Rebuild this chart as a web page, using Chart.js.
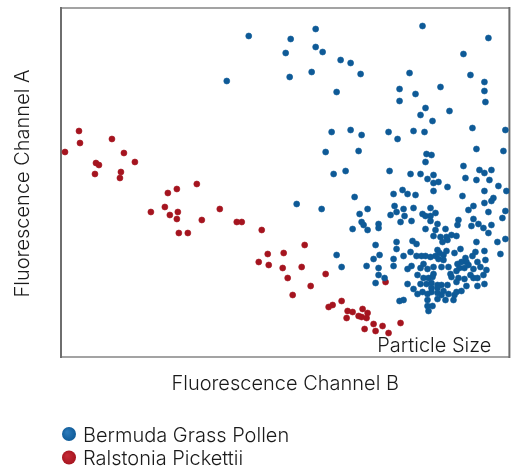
<!DOCTYPE html>
<html>
<head>
<meta charset="utf-8">
<script src="https://cdn.jsdelivr.net/npm/chart.js@4"></script>
<style>
html,body{margin:0;padding:0;background:#fff;}
#wrap{width:513px;height:468px;}
</style>
</head>
<body>
<div id="wrap"><canvas id="c" width="513" height="468"></canvas></div>
<script>
// Series labels
const seriesNames = ["Bermuda Grass Pollen", "Ralstonia Pickettii"];
const xTitle = "Fluorescence Channel B";
const yTitle = "Fluorescence Channel A";
const cornerLabel = "Particle Size";

// Bermuda Grass Pollen: [Channel B, Channel A] (arbitrary units)
const pollenX = [188,166,225,230,229,255,255,262,280,290,300,251,276,362,428,403,349,410,424,424,425,339,339,355,380,365,360,372,389,
271,290,301,328,337,353,364,412,445,265,298,366,371,365,416,443,403,419,424,431,273,285,329,350,360,373,367,405,416,429,
373,378,387,373,438,446,424,347,355,402,433,431,424,413,408,428,445,442,353,370,362,365,370,375,351,370,377,398,397,413,418,431,411,
294,261,299,307,333,342,334,330,336,343,301,303,318,340,344,236,
292,307,318,276,281,315,319,313,306,318,318,324,315,336,336,333,343,333,
365,375,385,423,428,373,380,386,391,396,387,382,352,356,416,437,445,400,394,386,377,379,375,350,356,361,365,370,415,412,424,440,
383,378,383,405,401,406,425,417,363,360,367,373,381,388,397,399,404,408,413,420,426,351,347,357,363,368,373,372,390,391,396,398,404,410,413,417,423,
347,360,366,371,377,381,387,396,406,417,424,
339,343,353,357,362,367,371,371,367,377,377,377,381,385,383,388,393,394,396,401,367,372,368];
const pollenY = [321,276,304,318,280,328,310,305,297,294,283,285,265,331,319,303,284,282,275,266,255,268,256,263,270,249,242,236,246,
225,227,222,225,218,226,225,229,227,205,206,203,202,195,208,206,191,187,184,187,183,186,186,183,183,182,178,179,177,177,
174,175,170,166,171,166,166,163,162,161,159,156,154,151,147,145,146,139,149,149,143,141,141,144,136,136,133,137,132,138,133,132,131,
160,148,143,148,163,167,151,142,145,148,135,132,133,135,141,153,
128,127,129,102,90,112,102,98,91,89,82,79,74,115,108,98,101,91,
128,127,128,129,124,121,120,120,122,121,117,115,116,113,115,115,118,108,104,106,107,104,101,105,101,101,101,100,105,101,106,103,
102,98,97,99,95,95,97,95,93,89,88,90,90,90,93,89,89,92,88,90,87,91,88,82,79,79,83,80,83,80,86,79,78,82,79,79,82,
73,73,73,74,72,72,72,75,71,71,73,
56,57,68,63,65,63,65,69,57,69,64,58,62,57,66,63,57,62,65,66,51,51,46];

// Ralstonia Pickettii
const ralstoniaX = [18,19,4,51,63,35,38,74,34,60,59,136,107,116,104,90,109,117,116,141,159,118,127,176,181,201,207,198,208,223,222,
244,241,227,265,250,232,325,281,272,268,287,292,302,307,286,298,301,306,313,322,304,315,328,340];
const ralstoniaY = [226,214,205,218,204,194,192,195,183,185,179,173,164,168,150,145,142,145,138,137,148,124,124,135,135,127,103,95,92,104,89,
112,90,79,83,71,62,75,56,52,50,46,45,48,44,39,41,40,39,33,31,28,26,24,34];

const colors = ["#0e5a97", "#a5141f"];

function toPoints(xs, ys){ return xs.map((x,i)=>({x:x, y:ys[i]})); }

const FONT = "300 20px Inter, Roboto, 'Liberation Sans', sans-serif";

const decor = {
  id: 'decor',
  beforeDatasetsDraw(chart){
    const {ctx, chartArea:a} = chart;
    ctx.save();
    ctx.lineWidth = 2;
    ctx.strokeStyle = "#a3a3a3";
    ctx.beginPath();
    ctx.moveTo(a.left, a.top); ctx.lineTo(a.right, a.top);
    ctx.moveTo(a.left, a.bottom); ctx.lineTo(a.right, a.bottom);
    ctx.stroke();
    ctx.strokeStyle = "#6e6e6e";
    ctx.beginPath();
    ctx.moveTo(a.left, a.top-1); ctx.lineTo(a.left, a.bottom+1);
    ctx.moveTo(a.right, a.top-1); ctx.lineTo(a.right, a.bottom+1);
    ctx.stroke();
    ctx.restore();
  },
  afterDraw(chart){
    const {ctx, chartArea:a} = chart;
    ctx.save();
    ctx.fillStyle = "#1a1a1a";
    ctx.font = FONT;
    // corner label
    ctx.textAlign = "right"; ctx.textBaseline = "alphabetic";
    ctx.fillText(cornerLabel, a.right - 18, a.bottom - 5);
    // x title
    ctx.textAlign = "center";
    ctx.fillText(xTitle, (a.left + a.right)/2, a.bottom + 33);
    // y title
    ctx.save();
    ctx.translate(a.left - 32, (a.top + a.bottom)/2 + 1);
    ctx.rotate(-Math.PI/2);
    ctx.fillText(yTitle, 0, 0);
    ctx.restore();
    // legend
    const rows = [441.5, 465];
    chart.data.datasets.forEach((ds, i) => {
      const cy = rows[i] - 7.5, cx = 69;
      const g = ctx.createRadialGradient(cx-2, cy-2, 1, cx, cy, 7.5);
      g.addColorStop(0, i===0 ? "#2a78b8" : "#c42a35");
      g.addColorStop(1, ds.backgroundColor);
      ctx.fillStyle = g;
      ctx.beginPath(); ctx.arc(cx, cy, 7, 0, Math.PI*2); ctx.fill();
      ctx.fillStyle = "#1a1a1a";
      ctx.textAlign = "left";
      ctx.fillText(ds.label, 83, rows[i]);
    });
    ctx.restore();
  }
};

new Chart(document.getElementById('c'), {
  type: 'scatter',
  data: {
    datasets: [
      { label: seriesNames[0], data: toPoints(pollenX, pollenY), backgroundColor: colors[0], borderColor: colors[0] },
      { label: seriesNames[1], data: toPoints(ralstoniaX, ralstoniaY), backgroundColor: colors[1], borderColor: colors[1] }
    ]
  },
  options: {
    responsive: false,
    animation: false,
    layout: { padding: { left: 61, top: 8, right: 3, bottom: 111 } },
    elements: { point: { radius: 3, borderWidth: 0.6, hoverRadius: 3 } },
    plugins: { legend: { display: false }, tooltip: { enabled: false }, title: { display: false } },
    scales: {
      x: { type: 'linear', min: 0, max: 449, display: false },
      y: { type: 'linear', min: 0, max: 349, display: false }
    }
  },
  plugins: [decor]
});
</script>
</body>
</html>
